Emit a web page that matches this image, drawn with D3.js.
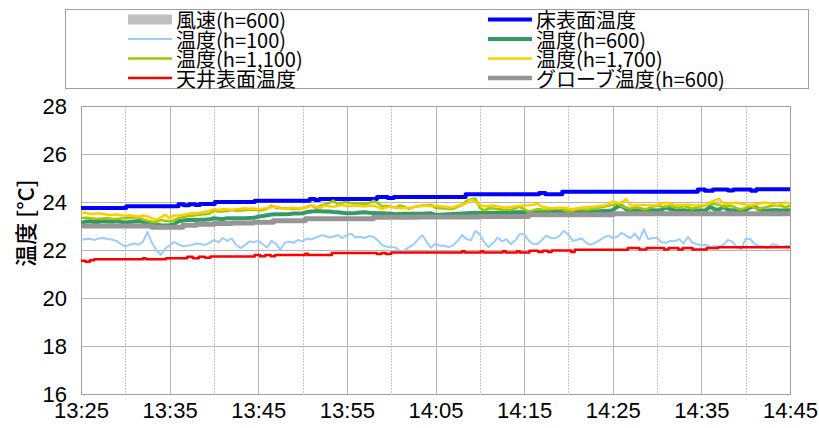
<!DOCTYPE html>
<html>
<head>
<meta charset="utf-8">
<script src="https://cdn.jsdelivr.net/npm/d3@7"></script>
<style>
  html, body { margin: 0; padding: 0; background: #fff; }
  svg { display: block; }
  .tick text { font-family: "Liberation Sans Narrow", "Liberation Sans", Arial, sans-serif; }
</style>
</head>
<body>
<svg id="chart" width="819" height="428"></svg>
<script>
// ---- data: minutes after 13:25, sampled every 30 s for the air temperatures ----
const xTickLabels = ["13:25", "13:35", "13:45", "13:55", "14:05", "14:15", "14:25", "14:35", "14:45"];
const xTickMinutes = [0, 10, 20, 30, 40, 50, 60, 70, 80];
const yTicks = [16, 18, 20, 22, 24, 26, 28];
const sampleMinutes = d3.range(0, 80.001, 0.5);

// 温度(h=100)
const tempH100 = [
  22.42,22.46,22.47,22.42,22.48,22.50,22.46,22.44,22.38,22.25,
  22.14,22.22,22.27,22.22,22.35,22.76,22.30,22.00,21.80,22.05,
  22.20,22.33,22.23,22.16,22.18,22.21,22.27,22.25,22.21,22.30,
  22.42,22.32,22.50,22.38,22.48,22.22,22.08,22.20,22.35,22.33,
  22.38,22.25,22.10,22.38,22.25,22.02,22.30,22.34,22.30,22.42,
  22.36,22.48,22.44,22.52,22.60,22.60,22.52,22.56,22.62,22.50,
  22.62,22.68,22.52,22.55,22.50,22.58,22.55,22.40,22.20,22.14,
  22.12,22.10,21.95,21.98,22.12,22.22,22.42,22.62,22.35,22.10,
  22.26,22.18,22.18,22.12,22.20,22.38,22.62,22.46,22.40,22.80,
  22.65,22.32,22.12,22.30,22.52,22.36,22.45,22.24,22.40,22.66,
  22.66,22.40,22.25,22.25,22.42,22.60,22.50,22.49,22.60,22.80,
  22.63,22.38,22.43,22.48,22.30,22.22,22.30,22.40,22.52,22.60,
  22.50,22.55,22.72,22.60,22.50,22.68,22.42,22.86,22.45,22.50,
  22.50,22.32,22.30,22.38,22.36,22.45,22.27,22.55,22.30,22.24,
  22.20,22.22,22.12,22.17,22.12,22.22,22.42,22.35,22.10,22.04,
  22.48,22.46,22.25,22.16,22.16,22.08,22.24,22.20,22.12,22.17,
  22.18
];

// 温度(h=600)
const tempH600 = [
  23.11,23.18,23.20,23.17,23.17,23.21,23.19,23.18,23.21,23.17,
  23.15,23.17,23.19,23.21,23.16,23.13,23.08,23.05,23.03,23.02,
  23.03,23.07,23.20,23.23,23.25,23.25,23.25,23.26,23.26,23.28,
  23.32,23.30,23.29,23.32,23.32,23.32,23.32,23.32,23.33,23.34,
  23.39,23.42,23.45,23.48,23.49,23.49,23.49,23.50,23.52,23.52,
  23.53,23.58,23.60,23.62,23.61,23.60,23.60,23.58,23.57,23.55,
  23.53,23.53,23.54,23.56,23.57,23.55,23.54,23.53,23.53,23.52,
  23.51,23.49,23.50,23.51,23.51,23.51,23.51,23.51,23.52,23.53,
  23.46,23.47,23.48,23.49,23.50,23.51,23.52,23.53,23.54,23.55,
  23.54,23.55,23.55,23.54,23.55,23.56,23.56,23.57,23.57,23.57,
  23.57,23.58,23.58,23.57,23.59,23.60,23.60,23.60,23.60,23.60,
  23.61,23.62,23.62,23.62,23.61,23.60,23.60,23.61,23.62,23.62,
  23.66,23.80,23.84,23.70,23.66,23.65,23.66,23.64,23.65,23.66,
  23.65,23.67,23.78,23.70,23.66,23.65,23.66,23.64,23.65,23.66,
  23.65,23.66,23.80,23.70,23.68,23.80,23.67,23.66,23.65,23.66,
  23.67,23.78,23.82,23.70,23.66,23.65,23.66,23.66,23.65,23.66,
  23.66
];

// 温度(h=1,100)
const tempH1100 = [
  23.32,23.34,23.33,23.30,23.30,23.31,23.32,23.30,23.29,23.31,
  23.32,23.34,23.35,23.36,23.27,23.22,23.18,23.16,23.25,23.22,
  23.19,23.24,23.32,23.37,23.41,23.43,23.45,23.48,23.49,23.52,
  23.64,23.60,23.60,23.62,23.67,23.63,23.64,23.67,23.67,23.69,
  23.65,23.66,23.72,23.85,23.75,23.74,23.74,23.73,23.71,23.72,
  23.73,23.80,23.86,23.74,23.85,23.90,23.96,24.06,23.88,23.98,
  24.00,23.95,23.94,23.94,23.92,23.95,24.05,23.95,23.81,23.84,
  23.80,23.77,23.86,23.80,23.71,23.79,23.82,23.85,23.87,23.88,
  23.75,23.74,23.73,23.72,23.71,23.80,23.88,24.05,24.12,24.15,
  23.75,23.65,23.74,23.73,23.71,23.69,23.68,23.67,23.74,23.80,
  23.70,23.60,23.65,23.71,23.69,23.68,23.70,23.72,23.74,23.67,
  23.60,23.63,23.70,23.70,23.68,23.70,23.74,23.76,23.80,23.84,
  23.87,23.93,23.83,23.77,23.72,23.77,23.76,23.70,23.73,23.80,
  23.84,23.81,23.80,23.86,23.78,23.76,23.83,23.78,23.72,23.78,
  23.82,23.86,23.92,23.91,23.88,23.80,23.82,23.83,23.74,23.70,
  23.75,23.83,23.78,23.71,23.76,23.80,23.84,23.86,23.83,23.79,
  23.84
];

// 温度(h=1,700)
const tempH1700 = [
  23.53,23.56,23.50,23.50,23.53,23.50,23.47,23.46,23.48,23.45,
  23.43,23.45,23.42,23.39,23.44,23.40,23.32,23.25,23.36,23.47,
  23.32,23.45,23.43,23.47,23.50,23.53,23.53,23.55,23.60,23.62,
  23.70,23.67,23.70,23.69,23.67,23.70,23.72,23.74,23.72,23.73,
  23.70,23.72,23.74,23.78,23.81,23.76,23.71,23.74,23.76,23.74,
  23.72,23.78,23.85,23.80,23.76,23.85,23.82,23.80,23.84,23.88,
  23.82,23.83,23.85,23.83,23.81,23.83,23.85,23.78,23.71,23.78,
  23.80,23.76,23.74,23.75,23.76,23.78,23.81,23.83,23.85,23.82,
  23.84,23.82,23.80,23.77,23.78,23.84,23.90,23.95,24.12,24.00,
  23.88,23.82,23.83,23.85,23.82,23.79,23.76,23.80,23.81,23.83,
  23.85,23.86,23.88,23.93,23.81,23.77,23.74,23.75,23.76,23.76,
  23.73,23.70,23.74,23.76,23.78,23.80,23.81,23.83,23.85,23.90,
  24.02,23.96,23.98,24.12,23.86,23.85,23.86,23.89,23.86,23.85,
  23.86,23.95,23.97,23.93,23.88,23.87,23.88,23.89,23.86,23.84,
  23.86,23.88,23.98,24.07,24.12,23.93,23.93,23.95,23.98,23.92,
  23.89,23.87,23.90,23.93,23.98,23.96,23.93,23.88,23.92,23.98,
  23.94
];

// 床表面温度: value held from each change point
const floorMinutes = [0, 5.1, 11.0, 11.6, 12.2, 12.9, 13.4, 15.1, 19.6, 25.8, 26.4, 26.9, 33.4, 34.6, 35.3, 43.4, 51.7, 52.4, 54.3, 69.6, 70.4, 71.3, 73.0, 73.6, 75.6, 76.2, 80];
const floorTemp    = [23.75, 23.82, 23.91, 23.86, 23.91, 23.87, 23.92, 24.00, 24.05, 24.12, 24.08, 24.12, 24.21, 24.17, 24.21, 24.32, 24.38, 24.32, 24.43, 24.52, 24.47, 24.52, 24.48, 24.52, 24.47, 24.53, 24.53];

// 天井表面温度
const ceilingMinutes = [0, 0.5, 1.0, 1.5, 7.0, 7.3, 9.6, 12.0, 12.6, 13.3, 14.0, 14.6, 19.6, 20.2, 20.8, 21.4, 21.9, 25.3, 25.6, 28.3, 33.4, 33.9, 34.4, 35.0, 43.0, 43.3, 45.1, 45.4, 47.6, 47.9, 49.2, 49.5, 50.6, 51.6, 52.1, 52.7, 53.1, 55.3, 55.7, 61.7, 63.0, 63.8, 65.8, 66.3, 67.4, 67.9, 69.0, 70.6, 71.9, 80];
const ceilingTemp    = [21.55, 21.51, 21.57, 21.61, 21.66, 21.61, 21.66, 21.72, 21.66, 21.72, 21.68, 21.73, 21.79, 21.74, 21.79, 21.74, 21.79, 21.84, 21.79, 21.88, 21.83, 21.88, 21.83, 21.90, 21.95, 21.90, 21.95, 21.90, 21.95, 21.90, 21.95, 21.90, 21.97, 21.92, 21.97, 21.92, 21.98, 21.92, 22.01, 22.08, 22.02, 22.08, 22.02, 22.08, 22.02, 22.08, 22.02, 22.08, 22.11, 22.11];

// グローブ温度(h=600)
const globeMinutes = [0, 8.0, 11.5, 13.0, 15.0, 17.0, 19.5, 21.7, 25.3, 33.0, 38.0, 45.0, 50.5, 60.0, 80];
const globeTemp    = [23.00, 22.95, 23.03, 23.07, 23.10, 23.12, 23.16, 23.22, 23.30, 23.36, 23.37, 23.40, 23.47, 23.51, 23.52];

const seriesNames = ["風速(h=600)", "床表面温度", "温度(h=100)", "温度(h=600)", "温度(h=1,100)", "温度(h=1,700)", "天井表面温度", "グローブ温度(h=600)"];
const seriesColors = ["#c0c0c0", "#0000ff", "#99ccff", "#339966", "#99cc00", "#ffcc00", "#ff0000", "#969696"];
const seriesWidths = [10, 4, 2, 4, 2.5, 2.5, 2.5, 5];

// ---- layout ----
const svg = d3.select("#chart");
const plot = { left: 81, right: 790, top: 106, bottom: 394 };

const x = d3.scaleLinear().domain([0, 80]).range([plot.left, plot.right]);
const y = d3.scaleLinear().domain([16, 28]).range([plot.bottom, plot.top]);

// grid
const grid = svg.append("g");
grid.selectAll("line.h").data(yTicks.slice(1, -1)).join("line")
  .attr("x1", plot.left).attr("x2", plot.right)
  .attr("y1", d => Math.round(y(d)) + 0.5).attr("y2", d => Math.round(y(d)) + 0.5)
  .attr("stroke", "#b4b4b4").attr("stroke-width", 1);
grid.selectAll("line.vmaj").data(xTickMinutes.slice(1, -1)).join("line")
  .attr("y1", plot.top).attr("y2", plot.bottom)
  .attr("x1", d => Math.round(x(d)) + 0.5).attr("x2", d => Math.round(x(d)) + 0.5)
  .attr("stroke", "#b4b4b4").attr("stroke-width", 1);
grid.selectAll("line.vmin").data(xTickMinutes.slice(0, -1).map(d => d + 5)).join("line")
  .attr("y1", plot.top).attr("y2", plot.bottom)
  .attr("x1", d => Math.round(x(d)) + 0.5).attr("x2", d => Math.round(x(d)) + 0.5)
  .attr("stroke", "#c4c4c4").attr("stroke-width", 1).attr("stroke-dasharray", "2,1");

// plot frame
svg.append("rect")
  .attr("x", plot.left + 0.5).attr("y", plot.top + 0.5)
  .attr("width", plot.right - plot.left).attr("height", plot.bottom - plot.top)
  .attr("fill", "none").attr("stroke", "#a0a0a0").attr("stroke-width", 1);

// axes (labels only; frame drawn above)
const xAxis = d3.axisBottom(x).tickValues(xTickMinutes)
  .tickFormat((d, i) => xTickLabels[i]).tickSize(0).tickPadding(8);
svg.append("g").attr("transform", `translate(0,${plot.bottom})`).call(xAxis)
  .call(g => g.select(".domain").remove())
  .selectAll("text").attr("font-size", 22).attr("fill", "#000");

const yAxis = d3.axisLeft(y).tickValues(yTicks).tickFormat(d3.format("d")).tickSize(0).tickPadding(14);
svg.append("g").attr("transform", `translate(${plot.left},0)`).call(yAxis)
  .call(g => g.select(".domain").remove())
  .selectAll("text").attr("font-size", 22).attr("fill", "#000");

svg.append("text")
  .attr("transform", `translate(24,${(plot.top + plot.bottom) / 2 - 27}) rotate(-90)`)
  .attr("text-anchor", "middle").attr("dominant-baseline", "central")
  .attr("font-family", "'Noto Sans CJK JP', sans-serif").attr("font-size", 22)
  .attr("font-weight", 500)
  .text("温度 [°C]");

// series
svg.append("clipPath").attr("id", "plotClip").append("rect")
  .attr("x", plot.left).attr("y", plot.top)
  .attr("width", plot.right - plot.left).attr("height", plot.bottom - plot.top);

const series = [
  null,
  { t: floorMinutes, v: floorTemp, curve: d3.curveStepAfter },
  { t: sampleMinutes, v: tempH100, curve: d3.curveLinear },
  { t: sampleMinutes, v: tempH600, curve: d3.curveLinear },
  { t: sampleMinutes, v: tempH1100, curve: d3.curveLinear },
  { t: sampleMinutes, v: tempH1700, curve: d3.curveLinear },
  { t: ceilingMinutes, v: ceilingTemp, curve: d3.curveStepAfter },
  { t: globeMinutes, v: globeTemp, curve: d3.curveStepAfter }
];

const lines = svg.append("g").attr("clip-path", "url(#plotClip)");
series.forEach((s, i) => {
  if (!s) return;
  const pts = s.t.map((t, j) => [t, s.v[j]]);
  const line = d3.line().x(d => x(d[0])).y(d => y(d[1])).curve(s.curve);
  lines.append("path").datum(pts)
    .attr("d", line)
    .attr("fill", "none")
    .attr("stroke", seriesColors[i])
    .attr("stroke-width", seriesWidths[i])
    .attr("stroke-linejoin", "round");
});

// legend
const legend = svg.append("g");
legend.append("rect")
  .attr("x", 65.5).attr("y", 9.5).attr("width", 743).attr("height", 79)
  .attr("fill", "#fff").attr("stroke", "#a0a0a0");
const colX = [128, 488];
const rowY = [19.5, 39, 58.5, 78];
seriesNames.forEach((name, i) => {
  const cx = colX[i % 2], cy = rowY[Math.floor(i / 2)];
  if (i === 0) {
    legend.append("rect").attr("x", cx).attr("y", cy - 5).attr("width", 44).attr("height", 10)
      .attr("fill", seriesColors[i]);
  } else {
    legend.append("line").attr("x1", cx).attr("x2", cx + 44).attr("y1", cy).attr("y2", cy)
      .attr("stroke", seriesColors[i]).attr("stroke-width", Math.min(seriesWidths[i], 4.5));
  }
  legend.append("text").attr("x", cx + 48).attr("y", cy)
    .attr("dominant-baseline", "central")
    .attr("font-family", "'Noto Sans CJK JP', sans-serif").attr("font-size", 20)
    .text(name);
});
</script>
</body>
</html>
